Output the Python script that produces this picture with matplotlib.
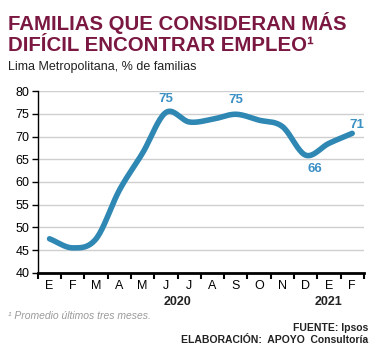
import numpy as np
import matplotlib.pyplot as plt

plt.rcParams['font.family'] = ['Liberation Sans', 'DejaVu Sans']

# data (Lima Metropolitana, % de familias)
months = ['E', 'F', 'M', 'A', 'M', 'J', 'J', 'A', 'S', 'O', 'N', 'D', 'E', 'F']
values = [47.5, 45.5, 47.5, 58.2, 66.4, 75.3, 73.2, 73.8, 74.9, 73.6, 72.2, 65.9, 68.5, 70.7]
labels = {5: '75', 8: '75', 11: '66', 13: '71'}
years = [(6, '2020'), (12.5, '2021')]

BLUE = '#2f87b3'
LABEL_BLUE = '#3b90c4'
TITLE = '#7b1842'


def smooth(x, y, n=20):
    """Catmull-Rom curve through the points (like Excel's smoothed line)."""
    x = np.asarray(x, float)
    y = np.asarray(y, float)
    px = np.concatenate([[2 * x[0] - x[1]], x, [2 * x[-1] - x[-2]]])
    py = np.concatenate([[2 * y[0] - y[1]], y, [2 * y[-1] - y[-2]]])
    xs, ys = [], []
    t = np.linspace(0, 1, n, endpoint=False)
    for i in range(1, len(px) - 2):
        for p, out in ((px, xs), (py, ys)):
            p0, p1, p2, p3 = p[i - 1], p[i], p[i + 1], p[i + 2]
            out.extend(0.5 * (2 * p1 + (-p0 + p2) * t
                              + (2 * p0 - 5 * p1 + 4 * p2 - p3) * t ** 2
                              + (-p0 + 3 * p1 - 3 * p2 + p3) * t ** 3))
    xs.append(x[-1])
    ys.append(y[-1])
    return np.array(xs), np.array(ys)


fig = plt.figure(figsize=(3.79, 3.6), dpi=100)
ax = fig.add_axes([0.100, 0.242, 0.860, 0.505])

x = np.arange(len(values))
sx, sy = smooth(x, values)
ax.plot(sx, sy, color=BLUE, linewidth=4.0, solid_capstyle='round', zorder=3)

# offsets (points) of the value labels from their points
offsets = {5: (0, 10), 8: (0, 10), 11: (7, -10), 13: (3, 6)}
for i, txt in labels.items():
    ax.annotate(txt, (x[i], values[i]), xytext=offsets[i], textcoords='offset points',
                ha='center', va='center', fontsize=9.5, fontweight='bold', color=LABEL_BLUE)

ax.set_xlim(-0.45, len(values) - 0.5)
ax.set_ylim(40, 80)
ax.set_yticks(range(40, 81, 5))
ax.yaxis.grid(True, color='#cfcfcf', linewidth=1.0)
ax.set_axisbelow(True)

ax.set_xticks(np.arange(-0.5, len(values), 1))
ax.set_xticklabels([])
ax.set_xticks(x, minor=True)
ax.set_xticklabels(months, minor=True)
ax.tick_params(axis='x', which='major', direction='out', length=4, width=1.5)
ax.tick_params(axis='x', which='minor', length=0, pad=5, labelsize=9)
ax.tick_params(axis='y', direction='out', length=4, width=1, labelsize=9, pad=2)

for s in ('top', 'right'):
    ax.spines[s].set_visible(False)
ax.spines['left'].set_linewidth(1.0)
ax.spines['bottom'].set_linewidth(2.0)

for pos, yr in years:
    ax.text(pos - 0.5, -0.16, yr, transform=ax.get_xaxis_transform(), ha='center',
            va='center', fontsize=9, fontweight='bold', color='#222222')

fig.text(0.021, 0.935, 'FAMILIAS QUE CONSIDERAN MÁS', fontsize=14.7, fontweight='bold',
         color=TITLE, va='center')
fig.text(0.021, 0.874, 'DIFÍCIL ENCONTRAR EMPLEO¹', fontsize=14.7, fontweight='bold',
         color=TITLE, va='center')
fig.text(0.021, 0.815, 'Lima Metropolitana, % de familias', fontsize=9, color='#222222',
         va='center')
fig.text(0.021, 0.122, '¹ Promedio últimos tres meses.', fontsize=7.5, style='italic',
         color='#9a9a9a', va='center')
fig.text(0.972, 0.088, 'FUENTE: Ipsos', fontsize=7.5, fontweight='bold',
         color='#222222', ha='right', va='center')
fig.text(0.972, 0.055, 'ELABORACIÓN:  APOYO  Consultoría', fontsize=7.5, fontweight='bold',
         color='#222222', ha='right', va='center')

fig.savefig('out.png', dpi=100)
